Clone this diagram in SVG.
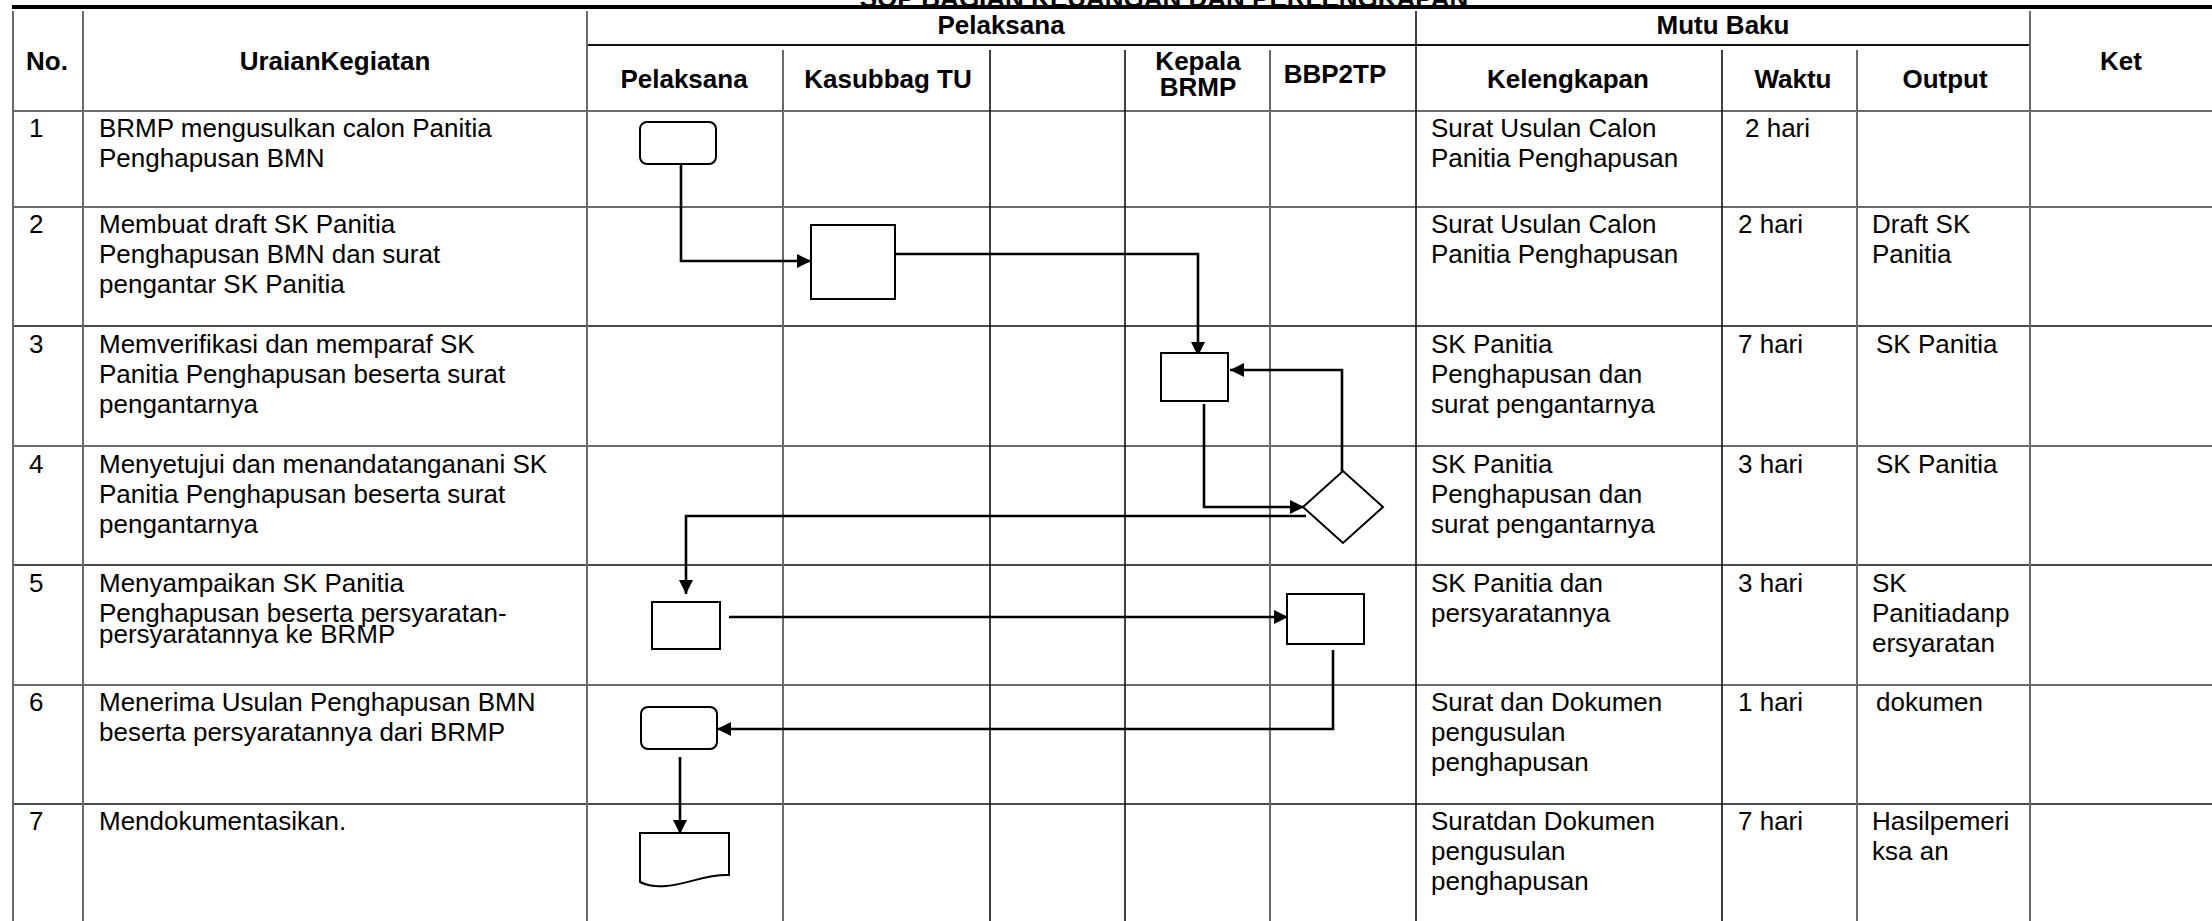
<svg xmlns="http://www.w3.org/2000/svg" width="2212" height="921" viewBox="0 0 2212 921">
<style>
.t{font-family:"Liberation Sans",Arial,sans-serif;font-size:26px;fill:#000}
.h{font-weight:bold;text-anchor:middle}
.gl{stroke:#6b6b6b;stroke-width:2;fill:none}
.bl{stroke:#111;stroke-width:1.6;fill:none}
.shape{fill:#fff;stroke:#000;stroke-width:2}
.conn{fill:none;stroke:#000;stroke-width:2.6}
</style>
<defs>
<marker id="arr" markerUnits="userSpaceOnUse" markerWidth="16" markerHeight="16" refX="14" refY="7" orient="auto">
<path d="M0,0 L14,7 L0,14 Z" fill="#000"/>
</marker>
</defs>
<rect x="0" y="0" width="2212" height="921" fill="#fff"/>

<g id="title">
<text class="t" x="1164" y="7" text-anchor="middle" font-weight="bold" font-size="38">SOP BAGIAN KEUANGAN DAN PERLENGKAPAN</text>
</g>

<g id="grid">
<line x1="12" y1="7" x2="2212" y2="7" stroke="#000" stroke-width="4"/>
<line class="bl" x1="587" y1="45" x2="2030" y2="45" style="stroke-width:2.2"/>
<line class="gl" x1="13" y1="111" x2="2212" y2="111"/>
<line class="gl" x1="13" y1="207" x2="2212" y2="207"/>
<line class="bl" x1="13" y1="326" x2="2212" y2="326"/>
<line class="gl" x1="13" y1="446" x2="2212" y2="446"/>
<line class="bl" x1="13" y1="565" x2="2212" y2="565"/>
<line class="gl" x1="13" y1="685" x2="2212" y2="685"/>
<line class="bl" x1="13" y1="804" x2="2212" y2="804"/>
<line class="gl" x1="13" y1="11" x2="13" y2="921"/>
<line class="gl" x1="83" y1="11" x2="83" y2="921"/>
<line class="gl" x1="587" y1="11" x2="587" y2="921"/>
<line class="gl" x1="783" y1="50" x2="783" y2="921"/>
<line class="bl" x1="990" y1="50" x2="990" y2="921"/>
<line class="bl" x1="1125" y1="50" x2="1125" y2="921"/>
<line class="gl" x1="1270" y1="50" x2="1270" y2="921"/>
<line class="bl" x1="1416" y1="11" x2="1416" y2="921"/>
<line class="bl" x1="1722" y1="50" x2="1722" y2="921"/>
<line class="gl" x1="1857" y1="50" x2="1857" y2="921"/>
<line class="gl" x1="2030" y1="11" x2="2030" y2="921"/>
</g>

<g id="header">
<text class="t h" x="47" y="70">No.</text>
<text class="t h" x="335" y="70">UraianKegiatan</text>
<text class="t h" x="1001" y="34">Pelaksana</text>
<text class="t h" x="1723" y="34">Mutu Baku</text>
<text class="t h" x="2121" y="70">Ket</text>
<text class="t h" x="684" y="88">Pelaksana</text>
<text class="t h" x="888" y="88">Kasubbag TU</text>
<text class="t h" x="1198" y="70">Kepala</text>
<text class="t h" x="1198" y="96">BRMP</text>
<text class="t h" x="1335" y="83">BBP2TP</text>
<text class="t h" x="1568" y="88">Kelengkapan</text>
<text class="t h" x="1793" y="88">Waktu</text>
<text class="t h" x="1945" y="88">Output</text>
</g>

<g id="row1">
<text class="t" x="29" y="137">1</text>
<text class="t" x="99" y="137">BRMP mengusulkan calon Panitia</text>
<text class="t" x="99" y="167">Penghapusan BMN</text>
<text class="t" x="1431" y="137">Surat Usulan Calon</text>
<text class="t" x="1431" y="167">Panitia Penghapusan</text>
<text class="t" x="1745" y="137">2 hari</text>
</g>
<g id="row2">
<text class="t" x="29" y="233">2</text>
<text class="t" x="99" y="233">Membuat draft SK Panitia</text>
<text class="t" x="99" y="263">Penghapusan BMN dan surat</text>
<text class="t" x="99" y="293">pengantar SK Panitia</text>
<text class="t" x="1431" y="233">Surat Usulan Calon</text>
<text class="t" x="1431" y="263">Panitia Penghapusan</text>
<text class="t" x="1738" y="233">2 hari</text>
<text class="t" x="1872" y="233">Draft SK</text>
<text class="t" x="1872" y="263">Panitia</text>
</g>
<g id="row3">
<text class="t" x="29" y="353">3</text>
<text class="t" x="99" y="353">Memverifikasi dan memparaf SK</text>
<text class="t" x="99" y="383">Panitia Penghapusan beserta surat</text>
<text class="t" x="99" y="413">pengantarnya</text>
<text class="t" x="1431" y="353">SK Panitia</text>
<text class="t" x="1431" y="383">Penghapusan dan</text>
<text class="t" x="1431" y="413">surat pengantarnya</text>
<text class="t" x="1738" y="353">7 hari</text>
<text class="t" x="1876" y="353">SK Panitia</text>
</g>
<g id="row4">
<text class="t" x="29" y="473">4</text>
<text class="t" x="99" y="473">Menyetujui dan menandatanganani SK</text>
<text class="t" x="99" y="503">Panitia Penghapusan beserta surat</text>
<text class="t" x="99" y="533">pengantarnya</text>
<text class="t" x="1431" y="473">SK Panitia</text>
<text class="t" x="1431" y="503">Penghapusan dan</text>
<text class="t" x="1431" y="533">surat pengantarnya</text>
<text class="t" x="1738" y="473">3 hari</text>
<text class="t" x="1876" y="473">SK Panitia</text>
</g>
<g id="row5">
<text class="t" x="29" y="592">5</text>
<text class="t" x="99" y="592">Menyampaikan SK Panitia</text>
<text class="t" x="99" y="622">Penghapusan beserta persyaratan-</text>
<text class="t" x="99" y="643">persyaratannya ke BRMP</text>
<text class="t" x="1431" y="592">SK Panitia dan</text>
<text class="t" x="1431" y="622">persyaratannya</text>
<text class="t" x="1738" y="592">3 hari</text>
<text class="t" x="1872" y="592">SK</text>
<text class="t" x="1872" y="622">Panitiadanp</text>
<text class="t" x="1872" y="652">ersyaratan</text>
</g>
<g id="row6">
<text class="t" x="29" y="711">6</text>
<text class="t" x="99" y="711">Menerima Usulan Penghapusan BMN</text>
<text class="t" x="99" y="741">beserta persyaratannya dari BRMP</text>
<text class="t" x="1431" y="711">Surat dan Dokumen</text>
<text class="t" x="1431" y="741">pengusulan</text>
<text class="t" x="1431" y="771">penghapusan</text>
<text class="t" x="1738" y="711">1 hari</text>
<text class="t" x="1876" y="711">dokumen</text>
</g>
<g id="row7">
<text class="t" x="29" y="830">7</text>
<text class="t" x="99" y="830">Mendokumentasikan.</text>
<text class="t" x="1431" y="830">Suratdan Dokumen</text>
<text class="t" x="1431" y="860">pengusulan</text>
<text class="t" x="1431" y="890">penghapusan</text>
<text class="t" x="1738" y="830">7 hari</text>
<text class="t" x="1872" y="830">Hasilpemeri</text>
<text class="t" x="1872" y="860">ksa an</text>
</g>

<g id="connectors">
<polyline class="conn" points="681,164 681,261 811,261" marker-end="url(#arr)"/>
<polyline class="conn" points="893,254 1198,254 1198,356" marker-end="url(#arr)"/>
<polyline class="conn" points="1342,472 1342,370 1230,370" marker-end="url(#arr)"/>
<polyline class="conn" points="1204,404 1204,507 1304,507" marker-end="url(#arr)"/>
<polyline class="conn" points="1306,516 686,516 686,594" marker-end="url(#arr)"/>
<polyline class="conn" points="729,617 1288,617" marker-end="url(#arr)"/>
<polyline class="conn" points="1333,650 1333,729 717,729" marker-end="url(#arr)"/>
<polyline class="conn" points="680,757 680,834" marker-end="url(#arr)"/>
</g>

<g id="n1"><rect class="shape" x="640" y="122" width="76" height="42" rx="7"/></g>
<g id="n2"><rect class="shape" x="811" y="225" width="84" height="74"/></g>
<g id="n3"><rect class="shape" x="1161" y="353" width="67" height="48"/></g>
<g id="n4"><polygon class="shape" points="1303,507 1343,471 1383,507 1343,543"/></g>
<g id="n5a"><rect class="shape" x="652" y="602" width="68" height="47"/></g>
<g id="n5b"><rect class="shape" x="1287" y="594" width="77" height="50"/></g>
<g id="n6"><rect class="shape" x="641" y="707" width="76" height="42" rx="7"/></g>
<g id="n7"><path class="shape" d="M640,833 H729 V875 C705,874 690,884 666,886 C655,887 646,885 640,882 Z"/></g>
</svg>
